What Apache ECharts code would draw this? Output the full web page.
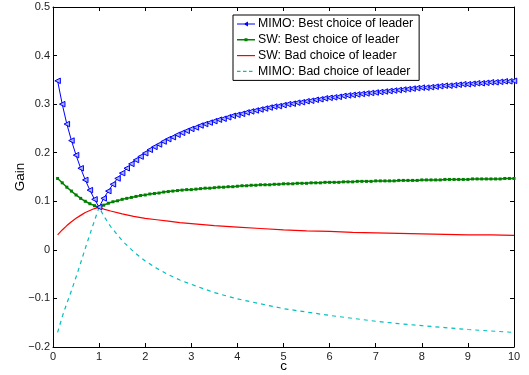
<!DOCTYPE html>
<html>
<head>
<meta charset="utf-8">
<script src="https://cdn.jsdelivr.net/npm/echarts@6/dist/echarts.min.js"></script>
<style>
  html, body { margin: 0; padding: 0; background: #fff; }
  #chart { width: 529px; height: 375px; }
</style>
</head>
<body>
<div id="chart"></div>
<script>
// c values for the marked curves (step 0.1)
const cMarked = [
  0.1, 0.2, 0.3, 0.4, 0.5, 0.6, 0.7, 0.8, 0.9,
  1.0, 1.1, 1.2, 1.3, 1.4, 1.5, 1.6, 1.7, 1.8, 1.9,
  2.0, 2.1, 2.2, 2.3, 2.4, 2.5, 2.6, 2.7, 2.8, 2.9,
  3.0, 3.1, 3.2, 3.3, 3.4, 3.5, 3.6, 3.7, 3.8, 3.9,
  4.0, 4.1, 4.2, 4.3, 4.4, 4.5, 4.6, 4.7, 4.8, 4.9,
  5.0, 5.1, 5.2, 5.3, 5.4, 5.5, 5.6, 5.7, 5.8, 5.9,
  6.0, 6.1, 6.2, 6.3, 6.4, 6.5, 6.6, 6.7, 6.8, 6.9,
  7.0, 7.1, 7.2, 7.3, 7.4, 7.5, 7.6, 7.7, 7.8, 7.9,
  8.0, 8.1, 8.2, 8.3, 8.4, 8.5, 8.6, 8.7, 8.8, 8.9,
  9.0, 9.1, 9.2, 9.3, 9.4, 9.5, 9.6, 9.7, 9.8, 9.9,
  10.0
];
const mimoBest = [
  0.348, 0.300, 0.259, 0.225, 0.195, 0.168, 0.144, 0.123, 0.104,
  0.088, 0.106, 0.121, 0.135, 0.147, 0.158, 0.168, 0.177, 0.185, 0.192,
  0.199, 0.206, 0.212, 0.217, 0.223, 0.228, 0.232, 0.237, 0.241, 0.245,
  0.249, 0.252, 0.256, 0.259, 0.262, 0.265, 0.268, 0.270, 0.273, 0.276,
  0.278, 0.280, 0.283, 0.285, 0.287, 0.289, 0.291, 0.293, 0.295, 0.296,
  0.298, 0.300, 0.301, 0.303, 0.304, 0.306, 0.307, 0.309, 0.310, 0.312,
  0.313, 0.314, 0.315, 0.317, 0.318, 0.319, 0.320, 0.321, 0.322, 0.323,
  0.324, 0.325, 0.326, 0.327, 0.328, 0.329, 0.330, 0.331, 0.332, 0.333,
  0.334, 0.334, 0.335, 0.336, 0.337, 0.338, 0.338, 0.339, 0.340, 0.341,
  0.341, 0.342, 0.343, 0.343, 0.344, 0.345, 0.345, 0.346, 0.347, 0.347,
  0.348
];
const swBest = [
  0.147, 0.138, 0.129, 0.121, 0.113, 0.106, 0.100, 0.095, 0.091,
  0.088, 0.092, 0.096, 0.099, 0.101, 0.104, 0.106, 0.108, 0.110, 0.112,
  0.113, 0.115, 0.116, 0.117, 0.119, 0.120, 0.121, 0.122, 0.123, 0.124,
  0.124, 0.125, 0.126, 0.127, 0.127, 0.128, 0.129, 0.129, 0.130, 0.130,
  0.131, 0.132, 0.132, 0.133, 0.133, 0.134, 0.134, 0.134, 0.135, 0.135,
  0.136, 0.136, 0.136, 0.137, 0.137, 0.137, 0.138, 0.138, 0.138, 0.139,
  0.139, 0.139, 0.139, 0.140, 0.140, 0.140, 0.141, 0.141, 0.141, 0.141,
  0.142, 0.142, 0.142, 0.142, 0.142, 0.143, 0.143, 0.143, 0.143, 0.143,
  0.144, 0.144, 0.144, 0.144, 0.144, 0.145, 0.145, 0.145, 0.145, 0.145,
  0.145, 0.146, 0.146, 0.146, 0.146, 0.146, 0.146, 0.146, 0.147, 0.147,
  0.147
];

// c values for the plain curves
const cLine = [0.1, 0.2, 0.3, 0.4, 0.5, 0.6, 0.7, 0.8, 0.9, 1, 1.1, 1.25, 1.5, 1.75,
  2, 2.25, 2.5, 2.75, 3, 3.5, 4, 4.5, 5, 5.5, 6, 6.5, 7, 7.5, 8, 8.5, 9, 9.5, 10];
const swBad = [0.031, 0.041, 0.050, 0.058, 0.065, 0.071, 0.077, 0.081, 0.085, 0.088, 0.084, 0.080, 0.074, 0.069,
  0.065, 0.062, 0.059, 0.056, 0.054, 0.050, 0.047, 0.044, 0.041, 0.039, 0.038, 0.036, 0.035, 0.034, 0.033, 0.032, 0.031, 0.031, 0.030];
const mimoBad = [-0.170, -0.138, -0.110, -0.084, -0.056, -0.027, 0.003, 0.032, 0.060, 0.088, 0.070, 0.048, 0.019, -0.004,
  -0.023, -0.038, -0.051, -0.062, -0.071, -0.088, -0.101, -0.111, -0.121, -0.128, -0.135, -0.141, -0.147, -0.152, -0.156, -0.160, -0.164, -0.167, -0.170];

const names = ['MIMO: Best choice of leader', 'SW: Best choice of leader',
  'SW: Bad choice of leader', 'MIMO: Bad choice of leader'];
const colors = ['#0000ff', '#008000', '#ff0000', '#00bfbf'];

// legend glyphs, 18x8 box (corner points keep the box from being stretched)
const box = 'M0 0L0 0M18 8L18 8';
const icons = [
  'path://' + box + 'M0 3.5h18v1h-18zM6.5 4L11 1.5L11 6.5z',
  'path://' + box + 'M0 3.25h18v1.5h-18zM7.5 2.5h3v3h-3z',
  'path://' + box + 'M0 3.4h18v1.2h-18z',
  'path://' + box + 'M0 3.4h3.5v1.2h-3.5zM6 3.4h3.5v1.2h-3.5zM12 3.4h3.5v1.2h-3.5z'
];

const zip = (xs, ys) => xs.map((x, i) => [x, ys[i]]);
const font = 'Liberation Sans';
const fmtY = v => {
  const r = Math.round(v * 10) / 10;
  return r < 0 ? '\u2212' + Math.abs(r) : String(r);
};

const chart = echarts.init(document.getElementById('chart'));

const frameAxis = {
  axisLine: { show: true, onZero: false, lineStyle: { color: '#000', width: 1 } },
  axisTick: { show: true, inside: true, length: 4, lineStyle: { color: '#000' } },
  splitLine: { show: false }
};

chart.setOption({
  animation: false,
  backgroundColor: '#fff',
  grid: { left: 53, right: 15, top: 7, bottom: 28, outerBoundsMode: 'none' },
  legend: {
    data: names.map((n, i) => ({
      name: n,
      icon: icons[i],
      itemStyle: { color: colors[i], borderWidth: 0 }
    })),
    orient: 'vertical',
    left: 233,
    top: 15,
    selectedMode: false,
    backgroundColor: '#fff',
    borderColor: '#000',
    borderWidth: 1,
    padding: [3, 6, 3, 4],
    itemGap: 3.8,
    itemWidth: 18,
    itemHeight: 8,
    textStyle: { fontFamily: font, fontSize: 12.3, color: '#000', padding: [0, 0, 0, -2] }
  },
  xAxis: [
    Object.assign({
      type: 'value', min: 0, max: 10, interval: 1,
      name: 'c', nameLocation: 'middle', nameGap: 12, nameMoveOverlap: false,
      nameTextStyle: { fontFamily: font, fontSize: 13.5, color: '#000' },
      axisLabel: { fontFamily: font, fontSize: 11, color: '#222', margin: 4 }
    }, frameAxis),
    Object.assign({
      type: 'value', min: 0, max: 10, interval: 1, position: 'top',
      axisLabel: { show: false }
    }, frameAxis)
  ],
  yAxis: [
    Object.assign({
      type: 'value', min: -0.2, max: 0.5, interval: 0.1,
      name: 'Gain', nameLocation: 'middle', nameGap: 26, nameMoveOverlap: false,
      nameTextStyle: { fontFamily: font, fontSize: 13.5, color: '#000' },
      axisLabel: { fontFamily: font, fontSize: 11, color: '#222', margin: 3, formatter: fmtY }
    }, frameAxis),
    Object.assign({
      type: 'value', min: -0.2, max: 0.5, interval: 0.1, position: 'right',
      axisLabel: { show: false }
    }, frameAxis)
  ],
  series: [
    {
      name: names[0], type: 'line', data: zip(cMarked, mimoBest),
      symbol: 'triangle', symbolRotate: 90, symbolSize: 5.5, showAllSymbol: true,
      lineStyle: { color: colors[0], width: 1 },
      itemStyle: { color: '#aab4ff', borderColor: colors[0], borderWidth: 1 },
      z: 4
    },
    {
      name: names[1], type: 'line', data: zip(cMarked, swBest),
      symbol: 'rect', symbolSize: 3, showAllSymbol: true,
      lineStyle: { color: colors[1], width: 1.5 },
      itemStyle: { color: colors[1] },
      z: 3
    },
    {
      name: names[2], type: 'line', data: zip(cLine, swBad),
      symbol: 'none', showSymbol: false,
      lineStyle: { color: colors[2], width: 1.2 },
      itemStyle: { color: colors[2] },
      z: 2
    },
    {
      name: names[3], type: 'line', data: zip(cLine, mimoBad),
      symbol: 'none', showSymbol: false,
      lineStyle: { color: colors[3], width: 1.2, type: [4, 4] },
      itemStyle: { color: colors[3] },
      z: 2
    }
  ]
});
</script>
</body>
</html>
